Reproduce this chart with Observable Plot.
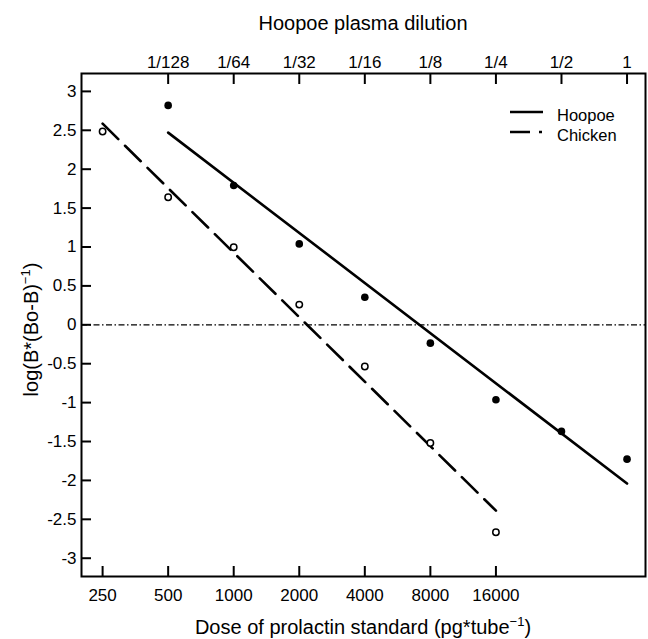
<!DOCTYPE html>
<html><head><meta charset="utf-8">
<script src="https://cdn.jsdelivr.net/npm/d3@7"></script>
<script src="https://cdn.jsdelivr.net/npm/@observablehq/plot@0.6"></script>
<style>
body{margin:0;background:#fff}
#chart{width:648px;height:639px}
</style>
</head><body><div id="chart"></div>
<script>
// ---- data ----
const hoopoeDose = [500, 1000, 2000, 4000, 8000, 16000, 32000, 64000];
const hoopoeValue = [2.82, 1.79, 1.04, 0.355, -0.236, -0.964, -1.37, -1.727];
const chickenDose = [250, 500, 1000, 2000, 4000, 8000, 16000];
const chickenValue = [2.485, 1.64, 0.997, 0.26, -0.536, -1.52, -2.666];
const hoopoeFitDose = [500, 64000];
const hoopoeFitValue = [2.47, -2.04];
const chickenFitDose = [250, 16000];
const chickenFitValue = [2.585, -2.389];
const doseTicks = [250, 500, 1000, 2000, 4000, 8000, 16000];
const dilutionDoses = [500, 1000, 2000, 4000, 8000, 16000, 32000, 64000];
const dilutionLabels = ["1/128", "1/64", "1/32", "1/16", "1/8", "1/4", "1/2", "1"];
const yTicks = [-3, -2.5, -2, -1.5, -1, -0.5, 0, 0.5, 1, 1.5, 2, 2.5, 3];
const seriesNames = ["Hoopoe", "Chicken"];

const hoopoe = hoopoeDose.map((d, i) => ({dose: d, value: hoopoeValue[i]}));
const chicken = chickenDose.map((d, i) => ({dose: d, value: chickenValue[i]}));
const hoopoeFit = hoopoeFitDose.map((d, i) => ({dose: d, value: hoopoeFitValue[i]}));
const chickenFit = chickenFitDose.map((d, i) => ({dose: d, value: chickenFitValue[i]}));

const W = 648, H = 639;
const mL = 81, mR = 3, mT = 73, mB = 63;
const font = "'Liberation Sans', Arial, sans-serif";

const plot = Plot.plot({
  width: W, height: H,
  marginLeft: mL, marginRight: mR, marginTop: mT, marginBottom: mB,
  style: {fontFamily: font, fontSize: "17px", color: "#000", background: "#fff", overflow: "visible"},
  x: {type: "log", base: 2, domain: [200, 77800]},
  y: {domain: [-3.235, 3.23]},
  marks: [
    Plot.ruleY([0], {stroke: "#000", strokeWidth: 1.3, strokeDasharray: "6,2.5,1.5,2.5"}),
    Plot.line(hoopoeFit, {x: "dose", y: "value", stroke: "#000", strokeWidth: 2.6}),
    Plot.line(chickenFit, {x: "dose", y: "value", stroke: "#000", strokeWidth: 2.6, strokeDasharray: "22,9.5"}),
    Plot.dot(hoopoe, {x: "dose", y: "value", r: 3.8, fill: "#000", stroke: "none"}),
    Plot.dot(chicken, {x: "dose", y: "value", r: 3.2, fill: "#fff", stroke: "#000", strokeWidth: 1.5}),
    Plot.axisX(doseTicks, {anchor: "bottom", tickSize: -10, tickPadding: 22, strokeWidth: 2, fontSize: 17,
      tickFormat: d => String(d), label: null}),
    Plot.axisX(dilutionDoses, {anchor: "top", tickSize: -10, tickPadding: 16, strokeWidth: 2, fontSize: 17,
      tickFormat: d => dilutionLabels[dilutionDoses.indexOf(d)], label: null}),
    Plot.axisY(yTicks, {anchor: "left", tickSize: -10, tickPadding: 15, strokeWidth: 2, fontSize: 17,
      tickFormat: d => String(d), label: null}),
    Plot.frame({stroke: "#000", strokeWidth: 2})
  ]
});

document.getElementById("chart").appendChild(plot);

// ---- axis titles and legend ----
const svg = d3.select(plot);
const cx = (mL + (W - mR)) / 2;

svg.append("text")
  .attr("x", cx).attr("y", 30)
  .attr("text-anchor", "middle")
  .style("font-size", "20px").style("font-family", font)
  .text("Hoopoe plasma dilution");

const xt = svg.append("text")
  .attr("x", cx).attr("y", 634)
  .attr("text-anchor", "middle")
  .style("font-size", "20px").style("font-family", font);
xt.append("tspan").text("Dose of prolactin standard (pg*tube");
xt.append("tspan").attr("dy", -8).style("font-size", "13px").text("\u22121");
xt.append("tspan").attr("dy", 8).text(")");

const cy = (mT + (H - mB)) / 2;
const yt = svg.append("text")
  .attr("transform", `translate(38,${cy + 5}) rotate(-90)`)
  .attr("text-anchor", "middle")
  .style("font-size", "20px").style("font-family", font);
yt.append("tspan").text("log(B*(Bo-B)");
yt.append("tspan").attr("dy", -8).style("font-size", "13px").text("\u22121");
yt.append("tspan").attr("dy", 8).text(")");

// legend
const lx0 = W - mR - 135, lx1 = lx0 + 33, tx = lx0 + 47;
const legendY = [112, 132];
const lg = svg.append("g").attr("text-anchor", "start");
lg.append("line").attr("x1", lx0).attr("x2", lx1).attr("y1", legendY[0]).attr("y2", legendY[0])
  .attr("stroke", "#000").attr("stroke-width", 2.6);
lg.append("line").attr("x1", lx0).attr("x2", lx1).attr("y1", legendY[1]).attr("y2", legendY[1])
  .attr("stroke", "#000").attr("stroke-width", 2.6).attr("stroke-dasharray", "20,9,3,40");
seriesNames.forEach((name, i) => {
  lg.append("text").attr("x", tx).attr("y", legendY[i] + 8.5)
    .attr("text-anchor", "start")
    .style("font-size", "16.5px").style("font-family", font).text(name);
});
</script>
</body></html>
